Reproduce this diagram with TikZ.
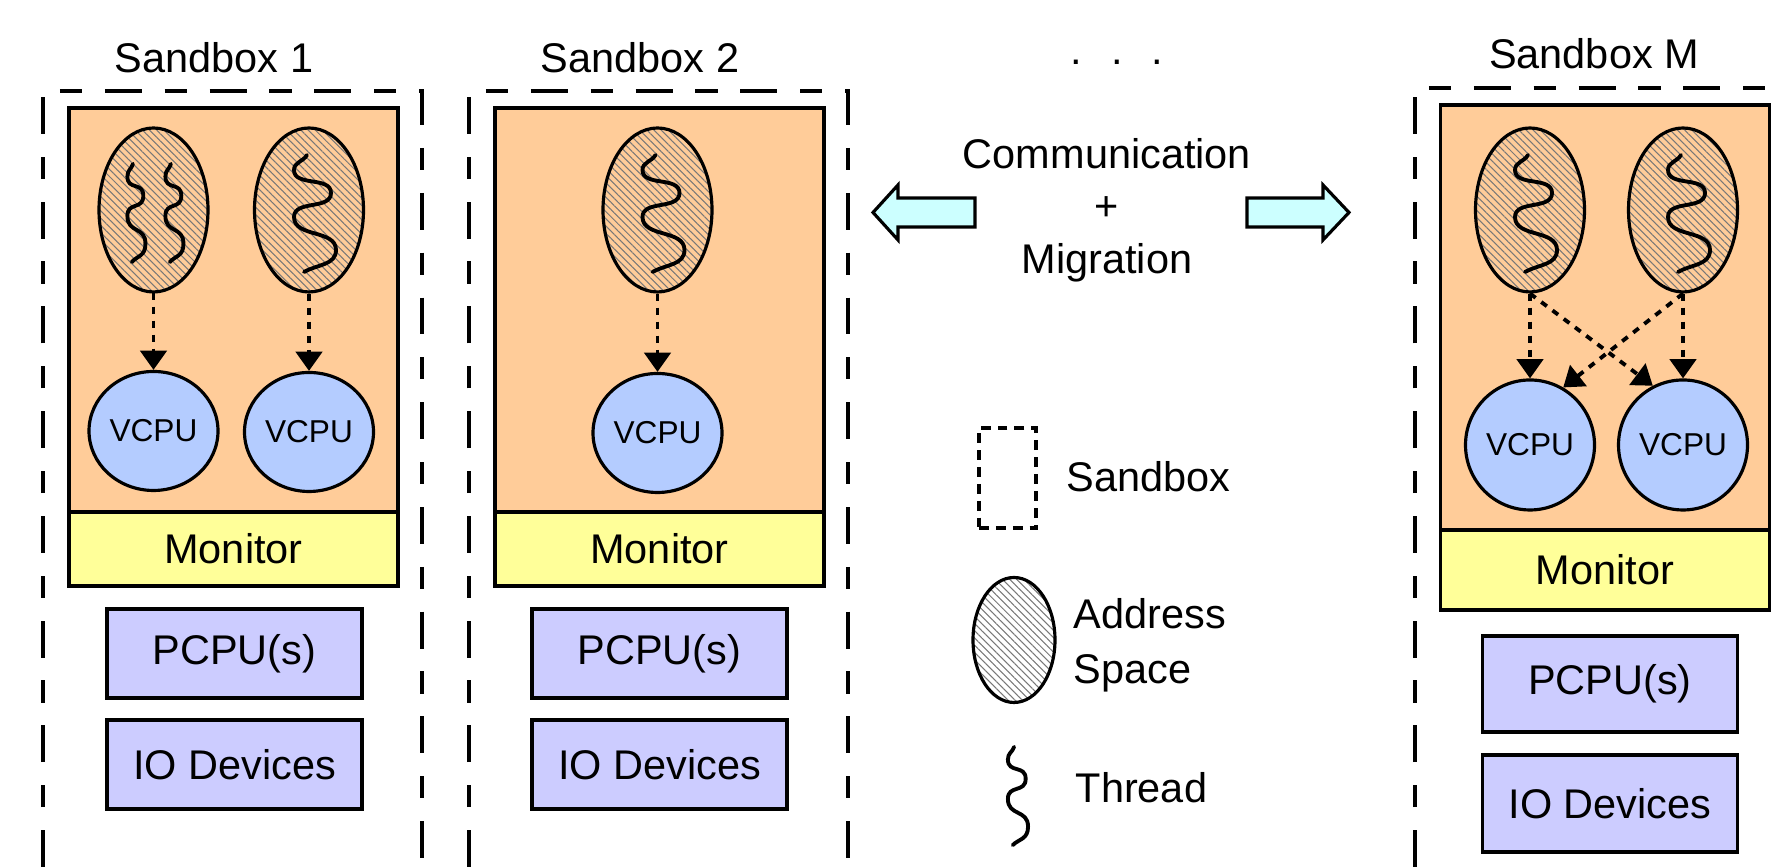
\documentclass[tikz,border=0pt]{standalone}
\usepackage{fontspec}
\setmainfont{Liberation Sans}
\usepackage{xcolor}
\usepackage{tikz}
\usetikzlibrary{shapes.geometric,arrows.meta,patterns.meta}
\definecolor{sboxorange}{RGB}{255,204,153}
\definecolor{monyellow}{RGB}{255,255,153}
\definecolor{vcpublue}{RGB}{180,204,255}
\definecolor{hwlilac}{RGB}{204,204,255}
\definecolor{commcyan}{RGB}{204,255,255}
\definecolor{hatchgray}{RGB}{120,120,120}

\tikzset{
  sandbox/.style={line width=0.9pt, dash pattern=on 10.5pt off 6.5pt on 6.3pt off 6.5pt},
  guest/.style={draw, line width=0.9pt, fill=sboxorange, minimum width=3.29cm, minimum height=4.04cm},
  monbox/.style={draw, line width=0.9pt, fill=monyellow, minimum width=3.29cm, minimum height=0.74cm},
  hwbox/.style={draw, line width=0.9pt, fill=hwlilac, minimum width=2.55cm, minimum height=0.89cm},
  addr/.style={ellipse, draw, line width=0.9pt, minimum width=1.09cm, minimum height=1.64cm,
    pattern={Lines[angle=-45,distance=1.45pt,line width=0.3pt]}, pattern color=hatchgray},
  aspace/.style={addr, preaction={fill=sboxorange}},
  vcpu/.style={ellipse, draw, line width=0.9pt, fill=vcpublue, minimum width=1.29cm,
    minimum height=1.19cm, font=\fontsize{9}{10}\selectfont},
  runs/.style={line width=1.1pt, dash pattern=on 2pt off 2pt, -{Triangle[width=7.5pt,length=5.5pt]}},
  thrd/.style={line width=1.1pt, line cap=round},
  commarrow/.style={draw, line width=0.9pt, fill=commcyan, line join=miter},
  legbox/.style={draw, line width=0.9pt, dash pattern=on 2.8pt off 2pt, minimum width=0.57cm, minimum height=1.0cm},
  thread/.pic={
    \draw[thrd] (-0.07,0.585) to[out=240,in=90] (-0.20,0.435) to[out=270,in=90] (0.17,0.205)
      to[out=270,in=90] (-0.20,-0.035) to[out=270,in=90] (0.22,-0.365) to[out=270,in=30] (-0.10,-0.585);
  }
}

\begin{document}
\begin{tikzpicture}[inner sep=0pt, font=\fontsize{11.8}{14}\selectfont]
\useasboundingbox (0,0) rectangle (17.75,8.67);

% Sandbox 1
\begin{scope}[shift={(0,0)}]
\node (lab1) at (2.14,8.09) {Sandbox 1};
\draw[sandbox] (0.43,0) -- (0.43,7.76) -- (4.22,7.76) -- (4.22,0);
\node[guest] (s1g) at (2.335,5.57) {};
\node[monbox] (s1mon) at (2.335,3.18) {Monitor};
\node[aspace] (s1a) at (1.535,6.57) {};
\node[aspace] (s1b) at (3.09,6.57) {};
\pic[xscale=0.43,yscale=0.84] at (1.36,6.54) {thread};
\pic[xscale=0.43,yscale=0.84] at (1.74,6.54) {thread};
\pic at (3.14,6.535) {thread};
\node[vcpu] (s1va) at (1.535,4.36) {VCPU};
\node[vcpu] (s1vb) at (3.09,4.35) {VCPU};
\draw[runs] (s1a.south) -- (s1va.north);
\draw[runs] (s1b.south) -- (s1vb.north);
\node[hwbox] (s1cpu) at (2.345,2.135) {PCPU(s)};
\node[hwbox] (s1io) at (2.345,1.025) {IO Devices};
\end{scope}

% Sandbox 2
\begin{scope}[shift={(4.26,0)}]
\node (lab2) at (2.14,8.09) {Sandbox 2};
\draw[sandbox] (0.43,0) -- (0.43,7.76) -- (4.22,7.76) -- (4.22,0);
\node[guest] (s2g) at (2.335,5.57) {};
\node[monbox] (s2mon) at (2.335,3.18) {Monitor};
\node[aspace] (s2a) at (2.315,6.57) {};
\pic at (2.365,6.535) {thread};
\node[vcpu] (s2va) at (2.315,4.34) {VCPU};
\draw[runs] (s2a.south) -- (s2va.north);
\node[hwbox] (s2cpu) at (2.335,2.135) {PCPU(s)};
\node[hwbox] (s2io) at (2.335,1.025) {IO Devices};
\end{scope}

% more sandboxes
\node (dots) at (11.17,8.02) [anchor=base] {.\hspace{8.2pt}.\hspace{8.2pt}.};

% Sandbox M
\begin{scope}[shift={(13.72,0)}]
\node (labm) at (2.22,8.13) {Sandbox M};
\draw[sandbox] (0.43,0) -- (0.43,7.79) -- (4.03,7.79);
\node[guest, minimum height=4.25cm] (s3g) at (2.33,5.495) {};
\node[monbox, minimum height=0.80cm] (s3mon) at (2.33,2.97) {Monitor};
\node[aspace] (s3a) at (1.58,6.57) {};
\node[aspace] (s3b) at (3.11,6.57) {};
\pic at (1.63,6.535) {thread};
\pic at (3.16,6.535) {thread};
\node[vcpu, minimum height=1.30cm] (s3va) at (1.58,4.22) {VCPU};
\node[vcpu, minimum height=1.30cm] (s3vb) at (3.11,4.22) {VCPU};
\draw[runs] (s3a.south) -- (s3va.north);
\draw[runs] (s3b.south) -- (s3vb.north);
\draw[runs] (s3a.south) -- (s3vb.117);
\draw[runs] (s3b.south) -- (s3va.60);
\node[hwbox, minimum height=0.96cm] (s3cpu) at (2.38,1.83) {PCPU(s)};
\node[hwbox, minimum height=0.97cm] (s3io) at (2.38,0.635) {IO Devices};
\end{scope}

% Communication between sandboxes
\node[align=center, font=\fontsize{11.8}{14.9}\selectfont] (comm) at (11.07,6.57) {Communication\\+\\Migration};
\draw[commarrow] (9.75,6.69) -- (8.98,6.69) -- (8.98,6.82) -- (8.73,6.545) -- (8.98,6.27) -- (8.98,6.40) -- (9.75,6.40) -- cycle;
\draw[commarrow] (12.47,6.69) -- (13.23,6.69) -- (13.23,6.82) -- (13.49,6.545) -- (13.23,6.27) -- (13.23,6.40) -- (12.47,6.40) -- cycle;

% Legend
\node[legbox] (legsb) at (10.075,3.89) {};
\node[anchor=west] (legsbtxt) at (10.66,3.90) {Sandbox};
\node[addr, minimum width=0.82cm, minimum height=1.25cm] (legas) at (10.14,2.27) {};
\node[anchor=west, align=left, font=\fontsize{11.8}{15.6}\selectfont] (legastxt) at (10.73,2.22) {Address\\Space};
\pic[xscale=0.48,yscale=0.84] at (10.175,0.71) {thread};
\node[anchor=west] (legthtxt) at (10.75,0.79) {Thread};
\end{tikzpicture}
\end{document}
